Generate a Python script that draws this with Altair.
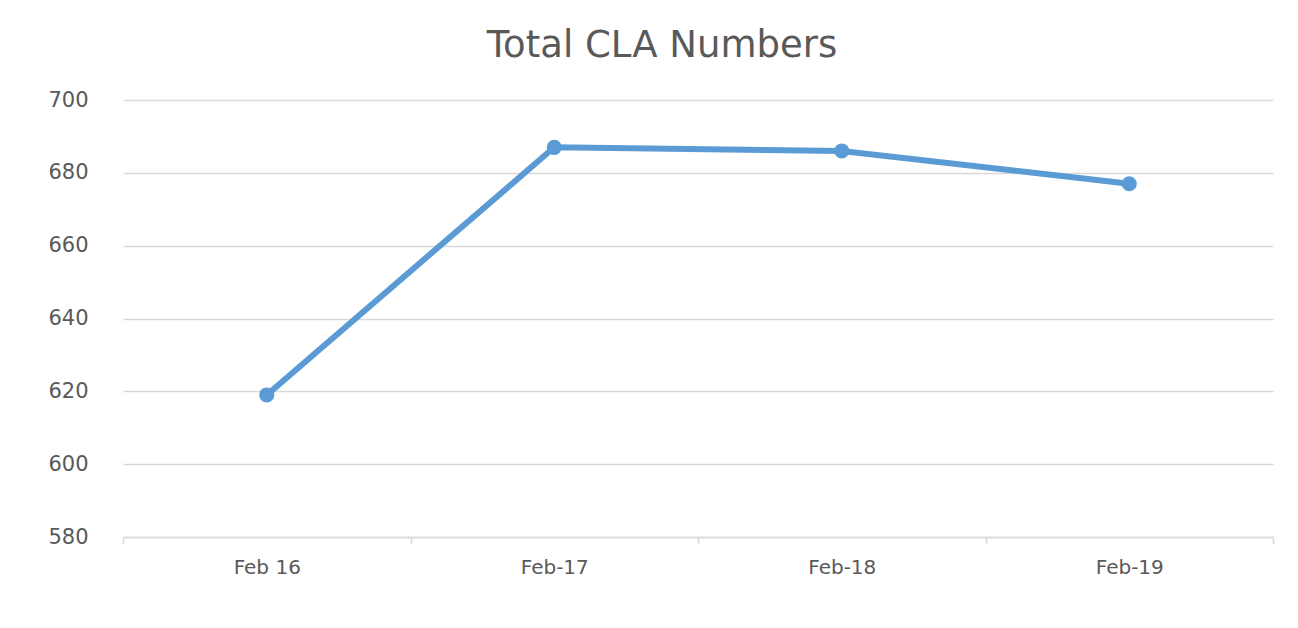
import altair as alt
import pandas as pd

categories = ["Feb 16", "Feb-17", "Feb-18", "Feb-19"]
values = [619, 687, 686, 677]

df = pd.DataFrame({"period": categories, "cla": values})

FONT = "DejaVu Sans"
TXT = "#595959"
GRID = "#d9d9d9"
BLUE = "#5b9bd5"

x = alt.X(
    "period:N",
    sort=categories,
    title=None,
    scale=alt.Scale(paddingInner=0, paddingOuter=0),
    axis=alt.Axis(
        labelAngle=0,
        labelFont=FONT,
        labelFontSize=20,
        labelColor=TXT,
        labelPadding=13,
        domainColor=GRID,
        domainWidth=1.5,
        tickColor=GRID,
        tickWidth=1.5,
        tickSize=7,
        tickBand="extent",
        grid=False,
    ),
)
y = alt.Y(
    "cla:Q",
    title=None,
    scale=alt.Scale(domain=[580, 700], nice=False, zero=False),
    axis=alt.Axis(
        values=[580, 600, 620, 640, 660, 680, 700],
        labelFont=FONT,
        labelFontSize=21,
        labelColor=TXT,
        labelPadding=35,
        domain=False,
        ticks=False,
        gridColor=GRID,
        gridWidth=1.5,
    ),
)

base = alt.Chart(df).encode(x=x, y=y)
line = base.mark_line(color=BLUE, strokeWidth=6)
pts = base.mark_point(filled=True, color=BLUE, opacity=1, size=230, shape="circle")

chart = (
    alt.layer(line, pts)
    .properties(
        width=1150,
        height=437,
        background="white",
        title=alt.TitleParams(
            "Total CLA Numbers",
            font=FONT,
            fontSize=37,
            fontWeight="normal",
            color=TXT,
            anchor="middle",
            offset=24,
            dx=-36,
        ),
        padding={"left": 115, "top": 92, "right": 10, "bottom": 60},
        autosize=alt.AutoSizeParams(type="none"),
    )
    .configure_view(stroke=None)
)

chart.save("out.html", embed_options={"renderer": "svg", "actions": False})
